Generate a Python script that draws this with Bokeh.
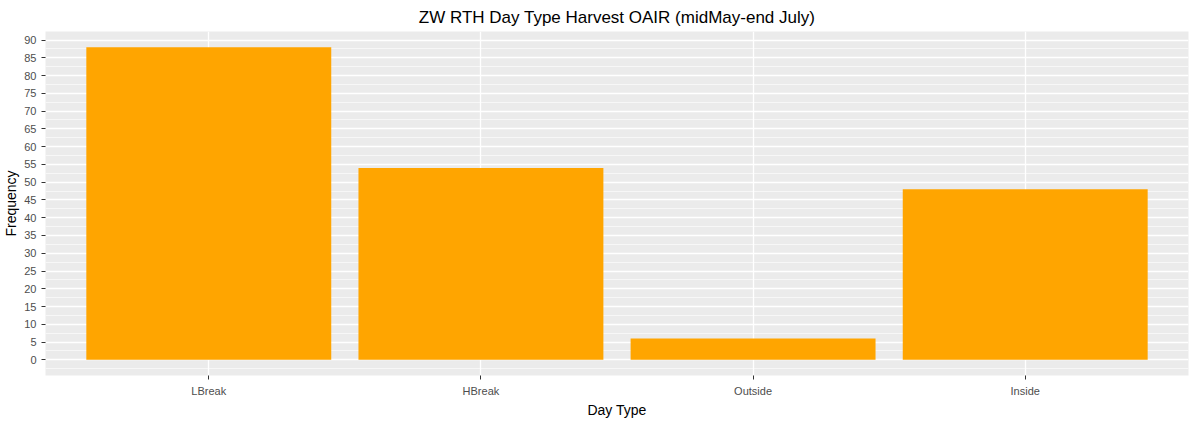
from bokeh.plotting import figure
from bokeh.models import FixedTicker, SingleIntervalTicker, Range1d
from bokeh.embed import file_html
from bokeh.resources import INLINE

# day types and their counts
day_types = ["LBreak", "HBreak", "Outside", "Inside"]
frequency = [88, 54, 6, 48]
x_pos = [1, 2, 3, 4]

p = figure(width=1190, height=420, output_backend="svg", toolbar_location=None,
           title="ZW RTH Day Type Harvest OAIR (midMay-end July)",
           x_range=Range1d(0.4, 4.6), y_range=Range1d(-4.4, 92.4),
           x_axis_label="Day Type", y_axis_label="Frequency")

p.vbar(x=x_pos, top=frequency, width=0.9, color="#FFA500", line_color=None)

p.background_fill_color = "#EBEBEB"
p.border_fill_color = "white"
p.outline_line_color = None
p.min_border_left = 38
p.min_border_right = 2
p.min_border_bottom = 0
p.min_border_top = 0

p.title.align = "center"
p.title.text_font = "Liberation Sans"
p.title.text_font_size = "17px"
p.title.text_font_style = "normal"
p.title.text_color = "black"

p.xaxis.ticker = FixedTicker(ticks=x_pos)
p.xaxis.major_label_overrides = {i: n for i, n in zip(x_pos, day_types)}
p.yaxis.ticker = SingleIntervalTicker(interval=5, num_minor_ticks=2)

for ax in (p.xaxis, p.yaxis):
    ax.axis_line_color = None
    ax.major_tick_line_color = "#333333"
    ax.major_tick_in = 0
    ax.major_tick_out = 4
    ax.minor_tick_line_color = None
    ax.major_label_text_font = "Liberation Sans"
    ax.major_label_text_font_size = "11px"
    ax.major_label_text_color = "#4D4D4D"
    ax.axis_label_text_font = "Liberation Sans"
    ax.axis_label_text_font_size = "14px"
    ax.axis_label_text_font_style = "normal"
    ax.axis_label_text_color = "black"
    ax.axis_label_standoff = 2

p.xgrid.grid_line_color = "white"
p.xgrid.grid_line_width = 1.3
p.ygrid.grid_line_color = "white"
p.ygrid.grid_line_width = 1.3
p.ygrid.minor_grid_line_color = "white"
p.ygrid.minor_grid_line_width = 0.6
p.grid.level = "underlay"

open("out.html", "w").write(file_html(p, INLINE))
